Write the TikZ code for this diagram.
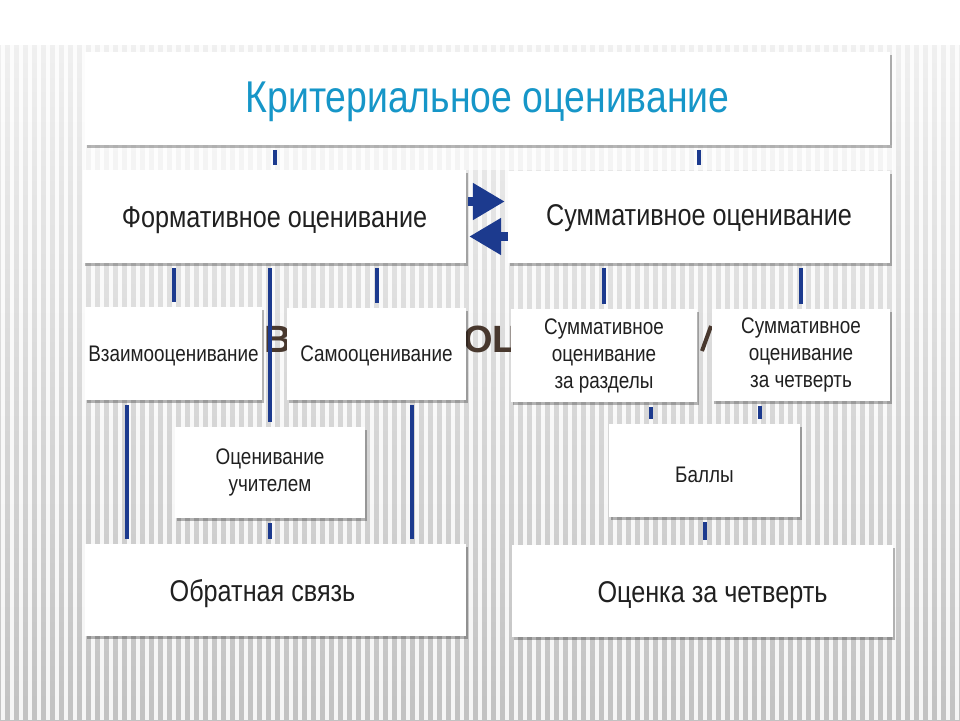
\documentclass[tikz,border=0pt]{standalone}
\usepackage{fontspec}
\newfontfamily\nar{Liberation Sans}[FakeStretch=0.84]
\newfontfamily\bgf{Liberation Sans}
\usetikzlibrary{shadows,calc,arrows.meta}
\definecolor{navy}{RGB}{28,58,142}
\definecolor{ttl}{RGB}{22,150,200}
\definecolor{txt}{RGB}{32,32,32}
\definecolor{bgtxt}{RGB}{72,56,46}
\newcommand{\lowr}[2]{\raisebox{-#1pt}[\height][\depth]{#2}}
\begin{document}
\begin{tikzpicture}[x=1pt,y=-1pt,
  box/.style={fill=white, draw=none, inner sep=0pt, align=center, text=txt,
    drop shadow={shadow xshift=1.5pt, shadow yshift=-3pt, opacity=0.28, fill=black}},
  big/.style={font=\nar\fontsize{30}{34}\selectfont},
  small/.style={font=\nar\fontsize{22.5}{27}\selectfont},
  conn/.style={draw=navy, line width=4pt},
  blockarrow/.style={draw=navy, line width=8.5pt, -{Triangle[length=32pt,width=35pt]}, navy}
]
\useasboundingbox (0,0) rectangle (960,720);
% background
\fill[white] (0,0) rectangle (960,720);
\shade[top color=gray!12, bottom color=gray!48] (0,45) rectangle (960,720);
\foreach \i in {0,...,107} {
  \draw[white, line width=3.6pt, opacity=0.85] (\i*9+3,45) -- (\i*9+3,720);
}
\fill[white, opacity=0.55] (85,145) rectangle (893,170);
% background text fragments
\node[font=\bgf\bfseries\fontsize{38}{40}\selectfont, text=bgtxt, anchor=base west, inner sep=0] (bgB) at (264,352) {В};
\node[font=\bgf\bfseries\fontsize{38}{40}\selectfont, text=bgtxt, anchor=base west, inner sep=0] (bgO) at (463,352) {ОЦ};
\draw[bgtxt, line width=4pt] (711,326) -- (702,351);
% nodes
\node[box, minimum width=805, minimum height=93, font=\nar\fontsize{44.5}{48}\selectfont, text=ttl] (title) at (487.5,98.5) {\lowr{3}{Критериальное оценивание}};
\node[box, big, minimum width=383, minimum height=93] (form) at (274.5,216.5) {\lowr{4}{Формативное оценивание}};
\node[box, big, minimum width=382, minimum height=92] (summ) at (699,216.5) {\lowr{2}{Суммативное оценивание}};
\node[box, small, minimum width=177, minimum height=93] (vz) at (173.5,353.5) {\lowr{2}{Взаимооценивание}};
\node[box, small, minimum width=179, minimum height=92] (samo) at (376.5,354) {\lowr{2}{Самооценивание}};
\node[box, small, minimum width=190, minimum height=91] (uch) at (270,472.5) {Оценивание\\учителем};
\node[box, big, minimum width=381, minimum height=92] (obr) at (275.5,590) {\hspace*{-26pt}\lowr{4}{Обратная связь}};
\node[box, small, minimum width=186, minimum height=93] (razd) at (604,355.5) {Суммативное\\оценивание\\за разделы};
\node[box, small, minimum width=178, minimum height=92] (chet) at (801,355) {Суммативное\\оценивание\\за четверть};
\node[box, small, minimum width=191, minimum height=93] (ball) at (704.5,470.5) {\lowr{4}{Баллы}};
\node[box, big, minimum width=381, minimum height=92] (ocen) at (702.5,591) {\hspace*{20pt}\lowr{4}{Оценка за четверть}};
% connector anchor points
\coordinate (vzL) at ($(vz.south)+(-47,0)$);
\coordinate (samoR) at ($(samo.south)+(35.5,0)$);
\coordinate (razdR) at ($(razd.south)+(47,0)$);
\coordinate (chetL) at ($(chet.south)+(-41,0)$);
% connectors
\begin{scope}[shorten <=5pt, shorten >=5pt]
\draw[conn] (title.south -| form.north) -- (form.north);
\draw[conn] (title.south -| summ.north) -- (summ.north);
\draw[conn] (form.south -| vz.north) -- (vz.north);
\draw[conn] (form.south -| samo.north) -- (samo.north);
\draw[conn] (form.south -| uch.north) -- (uch.north);
\draw[conn] (summ.south -| razd.north) -- (razd.north);
\draw[conn] (summ.south -| chet.north) -- (chet.north);
\draw[conn] (vzL) -- (vzL |- obr.north);
\draw[conn] (samoR) -- (samoR |- obr.north);
\draw[conn] (uch.south) -- (uch.south |- obr.north);
\draw[conn] (razdR) -- (razdR |- ball.north);
\draw[conn] (chetL) -- (chetL |- ball.north);
\draw[conn] (ball.south) -- (ball.south |- ocen.north);
\end{scope}
\draw[blockarrow] ($(form.east)+(2,-15)$) -- ($(summ.west)+(-3,-15)$);
\draw[blockarrow] ($(summ.west)+(0,20)$) -- ($(form.east)+(3,20)$);
\end{tikzpicture}
\end{document}
